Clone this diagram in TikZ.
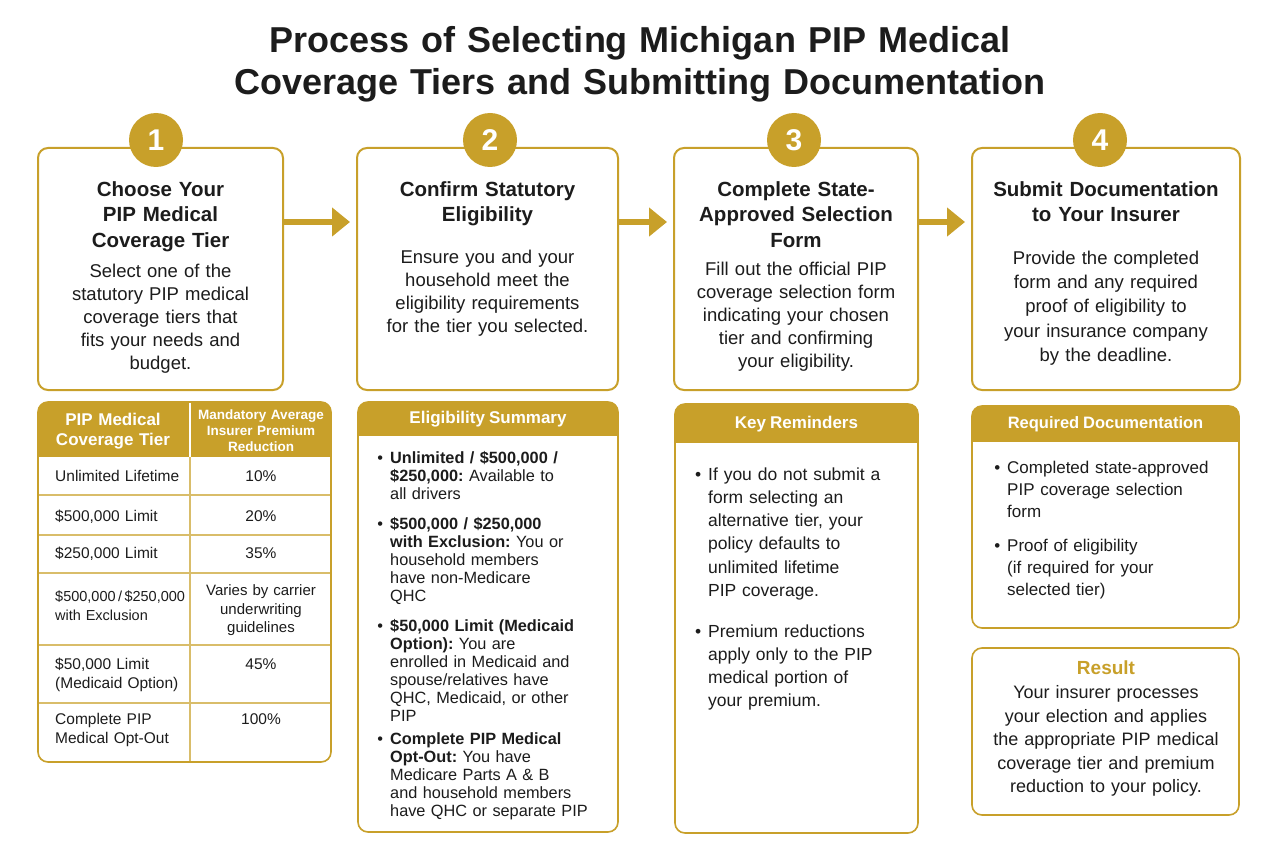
\documentclass[tikz,border=0pt]{standalone}
\usepackage{fontspec}
\setmainfont{Liberation Sans}[WordSpace=0.85]
\usetikzlibrary{arrows.meta,positioning}

\definecolor{pipgold}{RGB}{200,160,42}
\definecolor{ink}{RGB}{28,28,28}

\tikzset{
  stepbox/.style={draw=pipgold, line width=2pt, rounded corners=10pt, fill=white,
    outer sep=0pt, minimum height=242pt},
  stepnum/.style={circle, fill=pipgold, minimum size=54pt, inner sep=0pt, text=white,
    font=\fontsize{30}{30}\selectfont\bfseries},
  steptitle/.style={anchor=base, align=center, text width=250pt, inner sep=0pt, text=ink,
    font=\fontsize{20.5}{25.5}\selectfont\bfseries},
  stepbody/.style={anchor=base, align=center, text width=250pt, inner sep=0pt, text=ink,
    font=\fontsize{18.5}{23}\selectfont},
  flowarrow/.style={draw=pipgold, line width=6pt, -{Triangle[length=18pt,width=28pt]},
    shorten >=7pt},
  panel/.style={draw=pipgold, line width=1.6pt, rounded corners=10pt, fill=white,
    outer sep=0pt},
  panelhead/.style={text=white, inner sep=0pt, font=\fontsize{17}{20}\selectfont\bfseries},
  tableline/.style={draw=pipgold!70, line width=1.2pt},
  tablehead/.style={anchor=base, align=center, text width=140pt, inner sep=0pt, text=white},
  cell/.style={inner sep=0pt, text=ink, align=left, text width=135pt,
    font=\fontsize{15.5}{19}\selectfont},
  bulletitem/.style={anchor=base west, align=left, inner sep=0pt, text=ink},
}

\newcommand{\pipbullet}{\llap{\textbullet\hspace{7pt}}}

\begin{document}
\frenchspacing
\begin{tikzpicture}[x=1pt,y=-1pt]
\fill[white] (0,0) rectangle (1280,853);
\useasboundingbox (0,0) rectangle (1280,853);

% Title
\node[anchor=base, align=center, text width=1200pt, inner sep=0pt, text=ink,
  font=\fontsize{36}{42}\selectfont\bfseries] (title) at (640,53)
  {Process of Selecting Michigan PIP Medical\\Coverage Tiers and Submitting Documentation};

% Step boxes
\node[stepbox, minimum width=245pt] (step1) at (160.5,269) {};
\node[stepbox, minimum width=261pt] (step2) at (487.5,269) {};
\node[stepbox, minimum width=244pt] (step3) at (796,269) {};
\node[stepbox, minimum width=268pt] (step4) at (1106,269) {};

\node[stepnum] (num1) at (156,140) {1};
\node[stepnum] (num2) at (490,140) {2};
\node[stepnum] (num3) at (794,140) {3};
\node[stepnum] (num4) at (1100,140) {4};

% Arrows between the steps
\coordinate (arrowrow) at (0,222);
\draw[flowarrow] (step1.east |- arrowrow) -- (step2.west |- arrowrow);
\draw[flowarrow] (step2.east |- arrowrow) -- (step3.west |- arrowrow);
\draw[flowarrow] (step3.east |- arrowrow) -- (step4.west |- arrowrow);

% Step texts
\node[steptitle] (title1) at (160.5,196.5) {Choose Your\\PIP Medical\\Coverage Tier};
\node[stepbody] (body1) at (160.5,277.5)
  {Select one of the\\statutory PIP medical\\coverage tiers that\\fits your needs and\\budget.};

\node[steptitle] (title2) at (487.5,196.5) {Confirm Statutory\\Eligibility};
\node[stepbody] (body2) at (487.5,263.5)
  {Ensure you and your\\household meet the\\eligibility requirements\\for the tier you selected.};

\node[steptitle] (title3) at (796,196.5) {Complete State-\\Approved Selection\\Form};
\node[stepbody] (body3) at (796,275.5)
  {Fill out the official PIP\\coverage selection form\\indicating your chosen\\tier and confirming\\your eligibility.};

\node[steptitle] (title4) at (1106,196.5) {Submit Documentation\\to Your Insurer};
\node[stepbody, font=\fontsize{18.5}{24.2}\selectfont] (body4) at (1106,264.5)
  {Provide the completed\\form and any required\\proof of eligibility to\\your insurance company\\by the deadline.};

% Tier table
\node[panel, minimum width=293pt, minimum height=360pt] (tierTable) at (184.5,582) {};
\begin{scope}
  \clip[rounded corners=10pt] (tierTable.north west) rectangle (tierTable.south east);
  \fill[pipgold] (tierTable.north west) rectangle ([yshift=-55pt]tierTable.north east);
\end{scope}
\draw[white, line width=1.2pt] (190,403) -- (190,457);
\draw[tableline] (190,457) -- (190,761);
\foreach \y in {495,535,573,645,703}
  \draw[tableline] (39,\y) -- (330,\y);

\node[tablehead, font=\fontsize{17}{20}\selectfont\bfseries] (headTier) at (113,425)
  {PIP Medical\\Coverage Tier};
\node[tablehead, font=\fontsize{13.5}{16}\selectfont\bfseries] (headCut) at (261,419)
  {Mandatory Average\\Insurer Premium\\Reduction};

\node[cell, anchor=base west] (tier1) at (55,481.5) {Unlimited Lifetime};
\node[cell, anchor=base west] (tier2) at (55,521.5) {\$500,000 Limit};
\node[cell, anchor=base west] (tier3) at (55,558.5) {\$250,000 Limit};
\node[cell, anchor=base west, font=\fontsize{14.5}{19}\selectfont] (tier4) at (55,601.5)
  {\$500,000\,/\,\$250,000\\with Exclusion};
\node[cell, anchor=base west] (tier5) at (55,669.5) {\$50,000 Limit\\(Medicaid Option)};
\node[cell, anchor=base west] (tier6) at (55,724.5) {Complete PIP\\Medical Opt-Out};

\node[cell, anchor=base, align=center, text width=130pt] (cut1) at (261,481.5) {10\%};
\node[cell, anchor=base, align=center, text width=130pt] (cut2) at (261,521.5) {20\%};
\node[cell, anchor=base, align=center, text width=130pt] (cut3) at (261,558.5) {35\%};
\node[cell, anchor=base, align=center, text width=130pt, font=\fontsize{15}{18.5}\selectfont]
  (cut4) at (261,595.5) {Varies by carrier\\underwriting\\guidelines};
\node[cell, anchor=base, align=center, text width=130pt] (cut5) at (261,669.5) {45\%};
\node[cell, anchor=base, align=center, text width=130pt] (cut6) at (261,724.5) {100\%};

% Eligibility summary
\node[panel, minimum width=260pt, minimum height=430pt] (elig) at (488,617) {};
\begin{scope}
  \clip[rounded corners=10pt] (elig.north west) rectangle (elig.south east);
  \fill[pipgold] (elig.north west) rectangle ([yshift=-34pt]elig.north east);
\end{scope}
\node[panelhead] (eligHead) at ([yshift=-17pt]elig.north) {Eligibility Summary};

\begin{scope}[every node/.style={bulletitem, text width=222pt,
    font=\fontsize{16.3}{18}\selectfont}]
\node (elig1) at (390,463)
  {\pipbullet\textbf{Unlimited / \$500,000 /}\\\textbf{\$250,000:} Available to\\all drivers};
\node (elig2) at (390,529)
  {\pipbullet\textbf{\$500,000 / \$250,000}\\\textbf{with Exclusion:} You or\\household members\\have non-Medicare\\QHC};
\node (elig3) at (390,631)
  {\pipbullet\textbf{\$50,000 Limit (Medicaid}\\\textbf{Option):} You are\\enrolled in Medicaid and\\spouse/relatives have\\QHC, Medicaid, or other\\PIP};
\node (elig4) at (390,744)
  {\pipbullet\textbf{Complete PIP Medical}\\\textbf{Opt-Out:} You have\\Medicare Parts A \& B\\and household members\\have QHC or separate PIP};
\end{scope}

% Key reminders
\node[panel, minimum width=243pt, minimum height=429pt] (keyRem) at (796.5,618.5) {};
\begin{scope}
  \clip[rounded corners=10pt] (keyRem.north west) rectangle (keyRem.south east);
  \fill[pipgold] (keyRem.north west) rectangle ([yshift=-39pt]keyRem.north east);
\end{scope}
\node[panelhead] (keyHead) at ([yshift=-20pt]keyRem.north) {Key Reminders};

\begin{scope}[every node/.style={bulletitem, text width=200pt,
    font=\fontsize{17.5}{23.3}\selectfont}]
\node (rem1) at (708,480)
  {\pipbullet If you do not submit a\\form selecting an\\alternative tier, your\\policy defaults to\\unlimited lifetime\\PIP coverage.};
\node (rem2) at (708,637)
  {\pipbullet Premium reductions\\apply only to the PIP\\medical portion of\\your premium.};
\end{scope}

% Required documentation
\node[panel, minimum width=267pt, minimum height=222pt] (reqDoc) at (1105.5,517) {};
\begin{scope}
  \clip[rounded corners=10pt] (reqDoc.north west) rectangle (reqDoc.south east);
  \fill[pipgold] (reqDoc.north west) rectangle ([yshift=-36pt]reqDoc.north east);
\end{scope}
\node[panelhead, font=\fontsize{16.5}{20}\selectfont\bfseries] (reqHead)
  at ([yshift=-18pt]reqDoc.north) {Required Documentation};

\begin{scope}[every node/.style={bulletitem, text width=225pt,
    font=\fontsize{17}{22}\selectfont}]
\node (req1) at (1007,473)
  {\pipbullet Completed state-approved\\PIP coverage selection\\form};
\node (req2) at (1007,551)
  {\pipbullet Proof of eligibility\\(if required for your\\selected tier)};
\end{scope}

% Result
\node[panel, minimum width=267pt, minimum height=167pt] (result) at (1105.5,731.5) {};
\node[anchor=base, inner sep=0pt, text=pipgold, font=\fontsize{19}{22}\selectfont\bfseries]
  (resultHead) at (1106,674) {Result};
\node[stepbody, font=\fontsize{18}{23.5}\selectfont] (resultBody) at (1106,698.5)
  {Your insurer processes\\your election and applies\\the appropriate PIP medical\\coverage tier and premium\\reduction to your policy.};
\end{tikzpicture}
\end{document}
